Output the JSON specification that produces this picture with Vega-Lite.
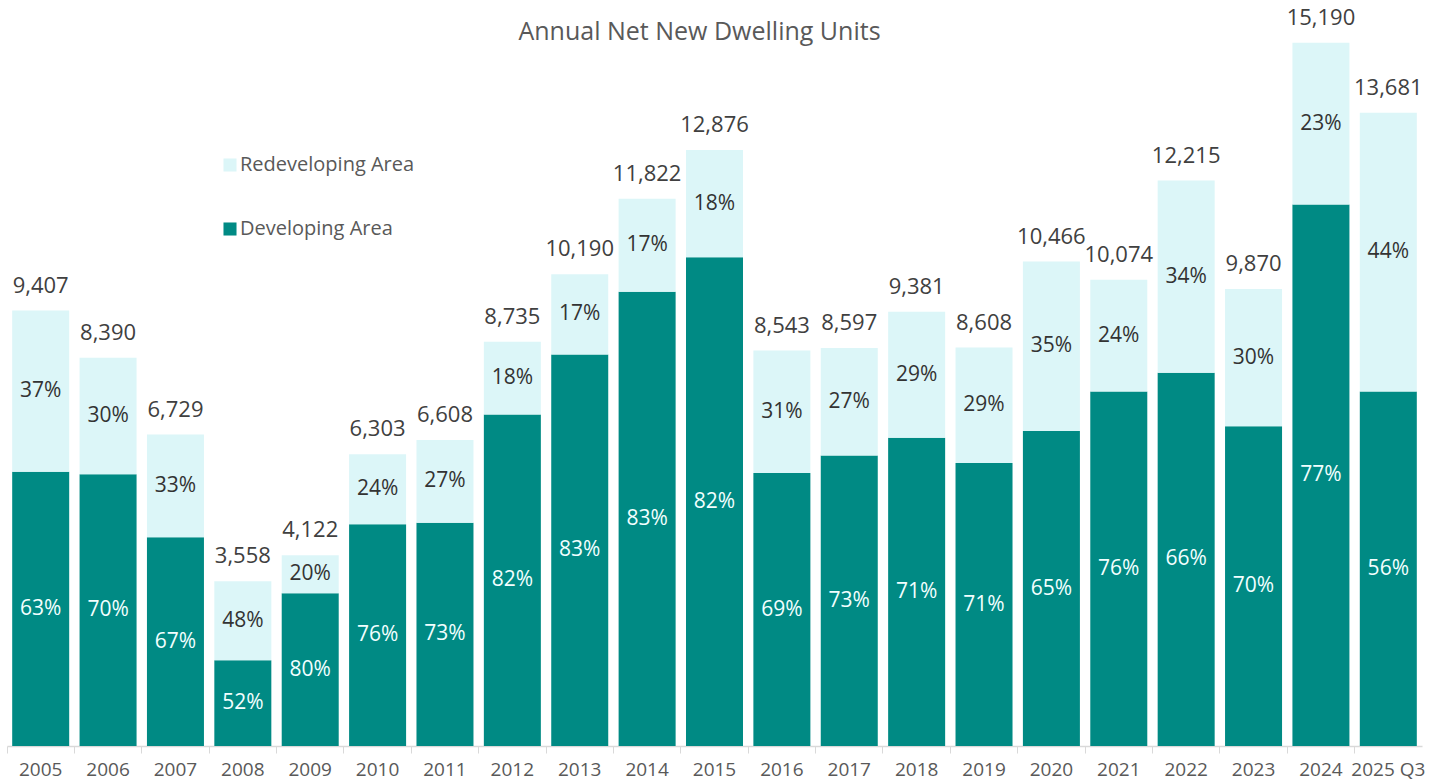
{
  "$schema": "https://vega.github.io/schema/vega-lite/v6.json",
  "width": 1415,
  "height": 736,
  "autosize": {"type": "none"},
  "padding": {"left": 7, "right": 10, "top": 10, "bottom": 36},
  "background": "white",
  "config": {"view": {"stroke": null}, "font": "Open Sans"},
  "title": {"text": "Annual Net New Dwelling Units", "fontSize": 25, "fontWeight": "normal", "color": "#595959", "anchor": "middle", "frame": "group", "offset": -38, "dx": -15, "font": "Open Sans"},
  "resolve": {"axis": {"x": "independent"}},
  "datasets": {
    "parts": [
      {"year": "2005", "area": "Developing Area", "units": 5926, "pct": "63%", "ord": 1},
      {"year": "2005", "area": "Redeveloping Area", "units": 3481, "pct": "37%", "ord": 2},
      {"year": "2006", "area": "Developing Area", "units": 5873, "pct": "70%", "ord": 1},
      {"year": "2006", "area": "Redeveloping Area", "units": 2517, "pct": "30%", "ord": 2},
      {"year": "2007", "area": "Developing Area", "units": 4508, "pct": "67%", "ord": 1},
      {"year": "2007", "area": "Redeveloping Area", "units": 2221, "pct": "33%", "ord": 2},
      {"year": "2008", "area": "Developing Area", "units": 1850, "pct": "52%", "ord": 1},
      {"year": "2008", "area": "Redeveloping Area", "units": 1708, "pct": "48%", "ord": 2},
      {"year": "2009", "area": "Developing Area", "units": 3298, "pct": "80%", "ord": 1},
      {"year": "2009", "area": "Redeveloping Area", "units": 824, "pct": "20%", "ord": 2},
      {"year": "2010", "area": "Developing Area", "units": 4790, "pct": "76%", "ord": 1},
      {"year": "2010", "area": "Redeveloping Area", "units": 1513, "pct": "24%", "ord": 2},
      {"year": "2011", "area": "Developing Area", "units": 4824, "pct": "73%", "ord": 1},
      {"year": "2011", "area": "Redeveloping Area", "units": 1784, "pct": "27%", "ord": 2},
      {"year": "2012", "area": "Developing Area", "units": 7163, "pct": "82%", "ord": 1},
      {"year": "2012", "area": "Redeveloping Area", "units": 1572, "pct": "18%", "ord": 2},
      {"year": "2013", "area": "Developing Area", "units": 8458, "pct": "83%", "ord": 1},
      {"year": "2013", "area": "Redeveloping Area", "units": 1732, "pct": "17%", "ord": 2},
      {"year": "2014", "area": "Developing Area", "units": 9812, "pct": "83%", "ord": 1},
      {"year": "2014", "area": "Redeveloping Area", "units": 2010, "pct": "17%", "ord": 2},
      {"year": "2015", "area": "Developing Area", "units": 10558, "pct": "82%", "ord": 1},
      {"year": "2015", "area": "Redeveloping Area", "units": 2318, "pct": "18%", "ord": 2},
      {"year": "2016", "area": "Developing Area", "units": 5895, "pct": "69%", "ord": 1},
      {"year": "2016", "area": "Redeveloping Area", "units": 2648, "pct": "31%", "ord": 2},
      {"year": "2017", "area": "Developing Area", "units": 6276, "pct": "73%", "ord": 1},
      {"year": "2017", "area": "Redeveloping Area", "units": 2321, "pct": "27%", "ord": 2},
      {"year": "2018", "area": "Developing Area", "units": 6661, "pct": "71%", "ord": 1},
      {"year": "2018", "area": "Redeveloping Area", "units": 2720, "pct": "29%", "ord": 2},
      {"year": "2019", "area": "Developing Area", "units": 6112, "pct": "71%", "ord": 1},
      {"year": "2019", "area": "Redeveloping Area", "units": 2496, "pct": "29%", "ord": 2},
      {"year": "2020", "area": "Developing Area", "units": 6803, "pct": "65%", "ord": 1},
      {"year": "2020", "area": "Redeveloping Area", "units": 3663, "pct": "35%", "ord": 2},
      {"year": "2021", "area": "Developing Area", "units": 7656, "pct": "76%", "ord": 1},
      {"year": "2021", "area": "Redeveloping Area", "units": 2418, "pct": "24%", "ord": 2},
      {"year": "2022", "area": "Developing Area", "units": 8062, "pct": "66%", "ord": 1},
      {"year": "2022", "area": "Redeveloping Area", "units": 4153, "pct": "34%", "ord": 2},
      {"year": "2023", "area": "Developing Area", "units": 6909, "pct": "70%", "ord": 1},
      {"year": "2023", "area": "Redeveloping Area", "units": 2961, "pct": "30%", "ord": 2},
      {"year": "2024", "area": "Developing Area", "units": 11696, "pct": "77%", "ord": 1},
      {"year": "2024", "area": "Redeveloping Area", "units": 3494, "pct": "23%", "ord": 2},
      {"year": "2025 Q3", "area": "Developing Area", "units": 7661, "pct": "56%", "ord": 1},
      {"year": "2025 Q3", "area": "Redeveloping Area", "units": 6020, "pct": "44%", "ord": 2}
    ],
    "totals": [
      {"year": "2005", "total": 9407},
      {"year": "2006", "total": 8390},
      {"year": "2007", "total": 6729},
      {"year": "2008", "total": 3558},
      {"year": "2009", "total": 4122},
      {"year": "2010", "total": 6303},
      {"year": "2011", "total": 6608},
      {"year": "2012", "total": 8735},
      {"year": "2013", "total": 10190},
      {"year": "2014", "total": 11822},
      {"year": "2015", "total": 12876},
      {"year": "2016", "total": 8543},
      {"year": "2017", "total": 8597},
      {"year": "2018", "total": 9381},
      {"year": "2019", "total": 8608},
      {"year": "2020", "total": 10466},
      {"year": "2021", "total": 10074},
      {"year": "2022", "total": 12215},
      {"year": "2023", "total": 9870},
      {"year": "2024", "total": 15190},
      {"year": "2025 Q3", "total": 13681}
    ]
  },
  "layer": [
    {
      "data": {"name": "parts"},
      "mark": {"type": "bar"},
      "encoding": {
        "x": {"field": "year", "type": "nominal", "sort": null,
              "scale": {"paddingInner": 0.154, "paddingOuter": 0.077},
              "axis": {"orient": "bottom", "title": null, "labelAngle": 0, "labelFontSize": 19, "labelColor": "#595959", "labelFont": "Open Sans", "labelPadding": 14, "ticks": false, "domain": true, "domainColor": "#d9d9d9", "domainWidth": 1.5}},
        "y": {"field": "units", "type": "quantitative", "stack": "zero",
              "scale": {"domain": [0, 15900], "nice": false},
              "axis": null},
        "color": {"field": "area", "type": "nominal",
                  "scale": {"domain": ["Redeveloping Area", "Developing Area"], "range": ["#DCF6F8", "#008A84"]},
                  "legend": {"title": null, "orient": "none", "legendX": 213, "legendY": 145, "symbolType": "square", "symbolSize": 170, "symbolStrokeWidth": 0, "labelFontSize": 20, "labelColor": "#595959", "labelFont": "Open Sans", "labelOffset": 0, "labelLimit": 400, "rowPadding": 44, "padding": 0}},
        "order": {"field": "ord", "type": "quantitative"}
      }
    },
    {
      "data": {"name": "parts"},
      "transform": [
        {"stack": "units", "groupby": ["year"], "sort": [{"field": "ord", "order": "ascending"}], "as": ["y0", "y1"]},
        {"calculate": "(datum.y0 + datum.y1) / 2", "as": "ymid"}
      ],
      "mark": {"type": "text", "fontSize": 21, "baseline": "middle", "align": "center", "font": "Open Sans"},
      "encoding": {
        "x": {"field": "year", "type": "nominal", "sort": null,
              "axis": {"orient": "bottom", "title": null, "labels": false, "domain": false, "ticks": true, "tickSize": 7, "tickColor": "#d9d9d9", "tickWidth": 1, "bandPosition": -0.091}},
        "y": {"field": "ymid", "type": "quantitative"},
        "text": {"field": "pct"},
        "color": {"condition": {"test": "datum.area === 'Developing Area'", "value": "#F2FFFF"}, "value": "#333333"}
      }
    },
    {
      "data": {"name": "totals"},
      "mark": {"type": "text", "fontSize": 22, "baseline": "bottom", "align": "center", "dy": -13, "color": "#404040", "font": "Open Sans"},
      "encoding": {
        "x": {"field": "year", "type": "nominal", "sort": null, "axis": null},
        "y": {"field": "total", "type": "quantitative"},
        "text": {"field": "total", "type": "quantitative", "format": ","}
      }
    }
  ]
}
